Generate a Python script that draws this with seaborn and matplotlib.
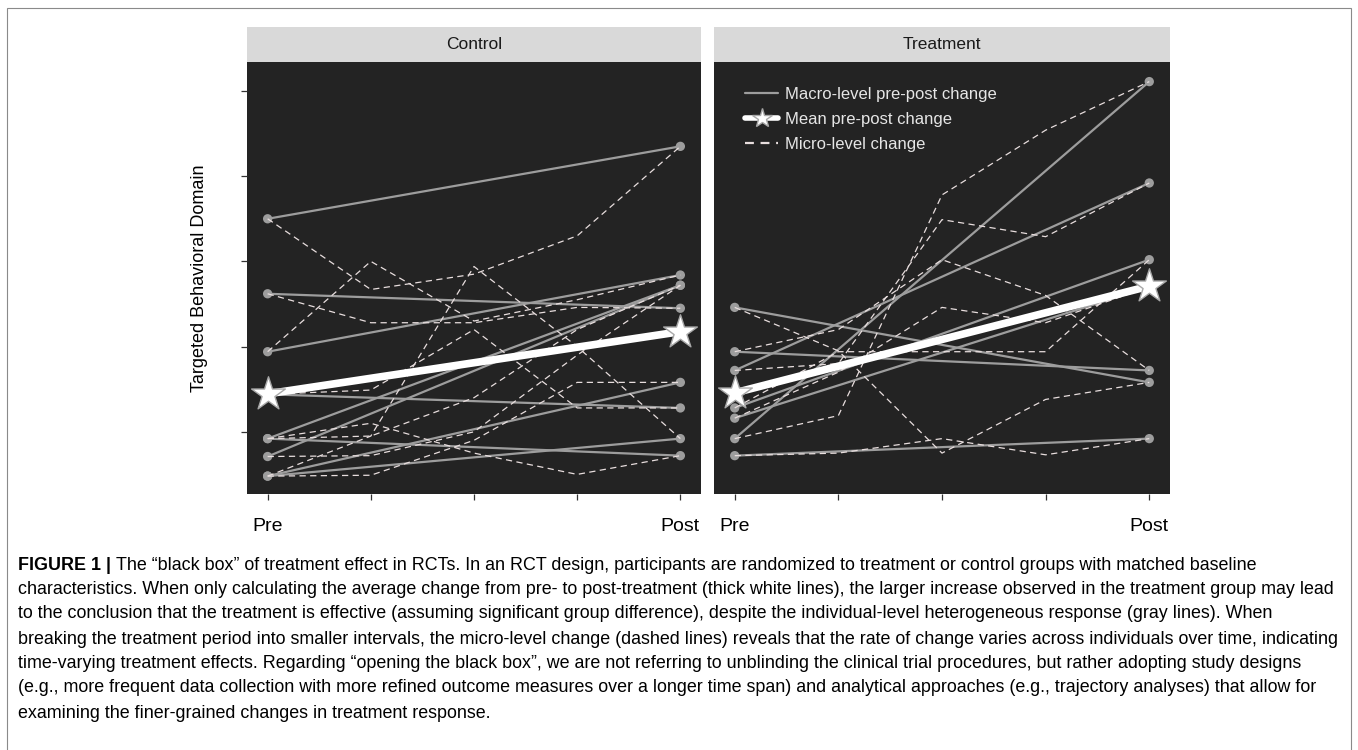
"""Figure 1: black box of treatment effect in RCTs (control vs treatment)."""
import matplotlib
matplotlib.use("Agg")
import matplotlib.pyplot as plt
from matplotlib.lines import Line2D
from matplotlib.patches import Rectangle
import numpy as np
import pandas as pd
import seaborn as sns

sns.set_theme(style="dark")
plt.rcParams["font.family"] = ["Liberation Sans", "DejaVu Sans"]

PANEL_BG = "#232323"; STRIP_BG = "#d9d9d9"
MACRO = "#9d9d9d"; MICRO = "#e8dede"; TICK = "#333333"

# ---------------------------------------------------------------------------
# Data: one value per person per time point (0 = Pre ... 4 = Post)
# ---------------------------------------------------------------------------
times = [0, 1, 2, 3, 4]
time_labels = ["Pre", "", "", "", "Post"]

ctrl_pre  = [3.50, 2.62, 1.94, 1.44, 0.92, 0.92, 0.71, 0.48, 0.48]
ctrl_t1   = [2.67, 2.28, 3.00, 1.49, 0.95, 1.10, 0.72, 0.49, 0.95]
ctrl_t2   = [2.85, 2.28, 2.30, 2.20, 1.40, 0.75, 1.00, 0.90, 2.94]
ctrl_t3   = [3.30, 2.46, 2.55, 1.28, 2.20, 0.50, 1.90, 1.58, 2.00]
ctrl_post = [4.35, 2.45, 2.84, 1.28, 2.72, 0.72, 2.72, 1.58, 0.92]

trt_pre  = [2.46, 1.94, 1.72, 1.28, 1.16, 0.92, 0.72]
trt_t1   = [1.95, 2.20, 1.80, 1.94, 1.70, 1.19, 0.75]
trt_t2   = [0.75, 3.02, 3.49, 1.94, 2.46, 3.78, 0.92]
trt_t3   = [1.38, 2.60, 3.29, 1.94, 2.28, 4.54, 0.73]
trt_post = [1.58, 1.72, 3.92, 3.02, 2.70, 5.11, 0.92]

groups = ["Control", "Treatment"]
series = {
    "Control": [ctrl_pre, ctrl_t1, ctrl_t2, ctrl_t3, ctrl_post],
    "Treatment": [trt_pre, trt_t1, trt_t2, trt_t3, trt_post],
}

rows = []
for g in groups:
    for t, vals in zip(times, series[g]):
        for pid, v in enumerate(vals):
            rows.append({"group": g, "id": pid, "time": t, "value": v})
df = pd.DataFrame(rows)
macro = df[df["time"].isin([times[0], times[-1]])]
means = macro.groupby(["group", "time"], as_index=False)["value"].mean()

caption_lines = [
    "The \u201cblack box\u201d of treatment effect in RCTs. In an RCT design, participants are randomized to treatment or control groups with matched baseline",
    "characteristics. When only calculating the average change from pre- to post-treatment (thick white lines), the larger increase observed in the treatment group may lead",
    "to the conclusion that the treatment is effective (assuming significant group difference), despite the individual-level heterogeneous response (gray lines). When",
    "breaking the treatment period into smaller intervals, the micro-level change (dashed lines) reveals that the rate of change varies across individuals over time, indicating",
    "time-varying treatment effects. Regarding \u201copening the black box\u201d, we are not referring to unblinding the clinical trial procedures, but rather adopting study designs",
    "(e.g., more frequent data collection with more refined outcome measures over a longer time span) and analytical approaches (e.g., trajectory analyses) that allow for",
    "examining the finer-grained changes in treatment response.",
]

# ---------------------------------------------------------------------------
# Layout (pixel positions of the original figure)
# ---------------------------------------------------------------------------
W, H = 1358, 750
fig = plt.figure(figsize=(W / 100, H / 100), dpi=100)
fig.patch.set_facecolor("white")
panel_x = {"Control": (247, 701), "Treatment": (714, 1170)}
top, bottom = 62, 494
strip_h = 35

for g in groups:
    x0, x1 = panel_x[g]
    ax = fig.add_axes([x0 / W, 1 - bottom / H, (x1 - x0) / W, (bottom - top) / H])
    ax.set_facecolor(PANEL_BG)
    d_macro = macro[macro["group"] == g]
    d_micro = df[df["group"] == g]
    d_mean = means[means["group"] == g]

    sns.lineplot(data=d_macro, x="time", y="value", units="id", estimator=None,
                 color=MACRO, lw=1.6, ax=ax)
    sns.scatterplot(data=d_macro, x="time", y="value", color=MACRO, s=45,
                    edgecolor="none", ax=ax, zorder=3)
    sns.lineplot(data=d_micro, x="time", y="value", units="id", estimator=None,
                 color=MICRO, lw=0.9, dashes=False, ax=ax, zorder=4)
    for ln in ax.lines[len(d_macro["id"].unique()):]:
        ln.set_dashes((5, 3.5))
    sns.lineplot(data=d_mean, x="time", y="value", color="white", lw=5.5,
                 ax=ax, zorder=5)
    sns.scatterplot(data=d_mean, x="time", y="value", marker="*", s=650,
                    color="white", edgecolor="#a8a8a8", linewidth=1, ax=ax, zorder=6)

    ax.set_xlim(-0.2, 4.2)
    ax.set_ylim(0.27, 5.34)
    ax.set_xticks(times)
    ax.set_xticklabels(time_labels, fontsize=14, color="black")
    ax.set_yticks([1, 2, 3, 4, 5])
    ax.set_yticklabels([])
    ax.set_xlabel(""); ax.set_ylabel("")
    ax.grid(False)
    for s in ax.spines.values():
        s.set_visible(False)
    ax.tick_params(axis="x", bottom=True, length=4.5, width=0.9, color=TICK, pad=13)
    ax.tick_params(axis="y", left=(g == "Control"), length=4.5, width=0.9, color=TICK)

    # facet strip
    ax.add_patch(Rectangle((0, 1), 1, strip_h / (bottom - top), transform=ax.transAxes,
                           clip_on=False, facecolor=STRIP_BG, edgecolor="none"))
    ax.text(0.5, 1 + strip_h / 2 / (bottom - top), g, transform=ax.transAxes,
            ha="center", va="center", fontsize=12.5, color="#1a1a1a")

    if g == "Treatment":
        handles = [
            Line2D([], [], color=MACRO, lw=1.6),
            Line2D([], [], color="white", lw=4, marker="*", markersize=15,
                   markerfacecolor="white", markeredgecolor="#a8a8a8"),
            Line2D([], [], color=MICRO, lw=1.6, dashes=(4, 3)),
        ]
        labels = ["Macro-level pre-post change", "Mean pre-post change", "Micro-level change"]
        ax.legend(handles, labels, loc="upper left", bbox_to_anchor=(0.035, 0.978),
                  frameon=False, fontsize=12, labelcolor="#e6e6e6",
                  handlelength=2.0, labelspacing=0.62, handletextpad=0.4)

fig.text(200 / W, 1 - (top + bottom) / 2 / H, "Targeted Behavioral Domain",
         rotation=90, ha="center", va="center", fontsize=13, color="black")

# caption
cap_y = [565, 590, 614, 639, 663, 688, 713]
cap_fs = 12.85
head = fig.text(18 / W, 1 - cap_y[0] / H, "FIGURE 1 | ", fontsize=cap_fs,
                fontweight="bold", va="center", ha="left", color="black")
fig.canvas.draw()
bb = head.get_window_extent()
for i, (line, y) in enumerate(zip(caption_lines, cap_y)):
    x = bb.x1 / W if i == 0 else 18 / W
    fig.text(x, 1 - y / H, line, fontsize=cap_fs, va="center", ha="left", color="black")

fig.patches.append(Rectangle((7 / W, -0.02), 1344 / W, 1.02 - 8 / H,
                             transform=fig.transFigure, fill=False,
                             edgecolor="#8a8a8a", lw=0.8))

fig.savefig("out.png", dpi=100)
plt.close()
